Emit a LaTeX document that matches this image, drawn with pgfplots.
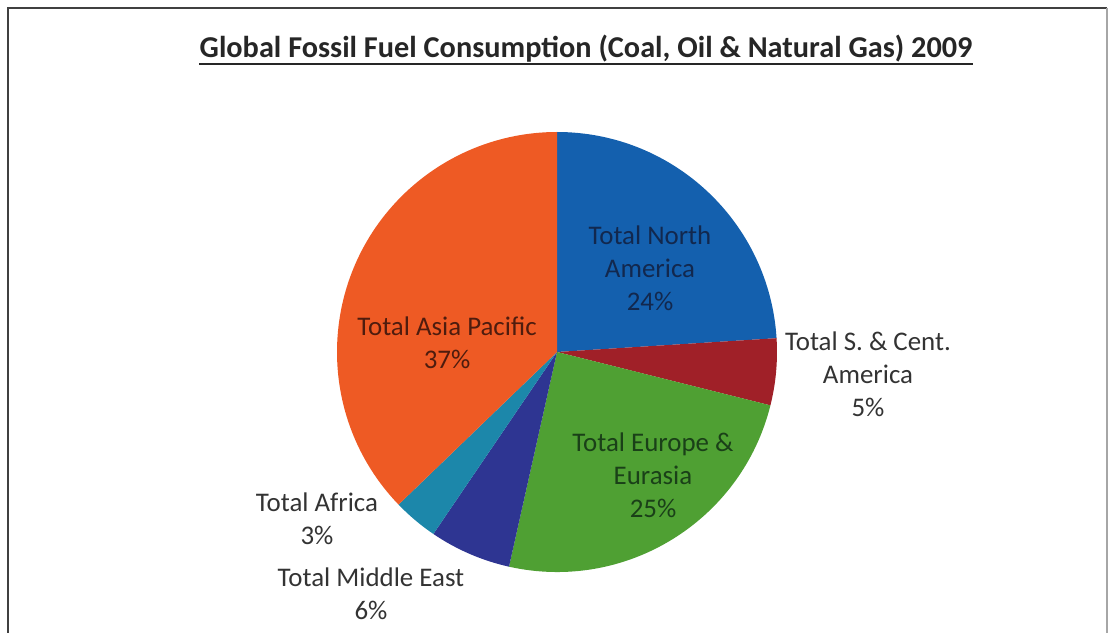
\documentclass[border=0pt]{standalone}
\usepackage{pgfplots}
\pgfplotsset{compat=1.18}
\usepackage{pgfplotstable}
\usepackage{fontspec}
\setmainfont{Carlito}

\definecolor{cNA}{HTML}{1460AE}
\definecolor{cSCA}{HTML}{A02028}
\definecolor{cEU}{HTML}{4FA033}
\definecolor{cME}{HTML}{2E3592}
\definecolor{cAF}{HTML}{1C87AA}
\definecolor{cAP}{HTML}{EE5A24}
\definecolor{tNA}{HTML}{12284E}
\definecolor{tEU}{HTML}{1A4018}
\definecolor{tAP}{HTML}{4E1C0E}
\definecolor{tOut}{HTML}{333333}

\pgfplotstableread{
name value
NA 24.0
SCA 4.9
EU 24.6
ME 6.0
AF 3.3
AP 37.2
}\piedata

\begin{document}
\begin{tikzpicture}
% cumulative angles (clockwise from 12 o'clock)
\pgfplotstablegetelem{0}{value}\of\piedata \let\vA\pgfplotsretval
\pgfplotstablegetelem{1}{value}\of\piedata \let\vB\pgfplotsretval
\pgfplotstablegetelem{2}{value}\of\piedata \let\vC\pgfplotsretval
\pgfplotstablegetelem{3}{value}\of\piedata \let\vD\pgfplotsretval
\pgfplotstablegetelem{4}{value}\of\piedata \let\vE\pgfplotsretval
\pgfplotstablegetelem{5}{value}\of\piedata \let\vF\pgfplotsretval
\pgfmathsetmacro\aA{90}
\pgfmathsetmacro\aB{\aA-3.6*\vA}
\pgfmathsetmacro\aC{\aB-3.6*\vB}
\pgfmathsetmacro\aD{\aC-3.6*\vC}
\pgfmathsetmacro\aE{\aD-3.6*\vD}
\pgfmathsetmacro\aF{\aE-3.6*\vE}
\pgfmathsetmacro\aG{\aF-3.6*\vF}

\path[use as bounding box] (0,0) rectangle (555bp,316.5bp);
% frame
\draw[color=black!75, line width=0.8bp] (4bp,0) -- (4bp,312.5bp) -- (553.5bp,312.5bp);
\draw[color=black!35, line width=0.6bp] (553.5bp,312.5bp) -- (553.5bp,0);

% title
\node[anchor=base, font=\bfseries\fontsize{15.2}{18}\selectfont, text=black!85, inner sep=0pt] (title) at (293bp,287.5bp)
  {Global Fossil Fuel Consumption (Coal, Oil \& Natural Gas) 2009};
\draw[line width=1.1bp, black!85] ([yshift=-3bp]title.base west) -- ([yshift=-3bp]title.base east);

\begin{axis}[
  at={(278.5bp,140.5bp)}, anchor=center,
  scale only axis, width=220bp, height=220bp,
  xmin=-1, xmax=1, ymin=-1, ymax=1,
  hide axis, clip=false,
]
\fill[cNA]  (axis cs:0,0) -- (axis cs:{cos(\aA)},{sin(\aA)}) arc[start angle=\aA, end angle=\aB, radius=110bp] -- cycle;
\fill[cSCA] (axis cs:0,0) -- (axis cs:{cos(\aB)},{sin(\aB)}) arc[start angle=\aB, end angle=\aC, radius=110bp] -- cycle;
\fill[cEU]  (axis cs:0,0) -- (axis cs:{cos(\aC)},{sin(\aC)}) arc[start angle=\aC, end angle=\aD, radius=110bp] -- cycle;
\fill[cME]  (axis cs:0,0) -- (axis cs:{cos(\aD)},{sin(\aD)}) arc[start angle=\aD, end angle=\aE, radius=110bp] -- cycle;
\fill[cAF]  (axis cs:0,0) -- (axis cs:{cos(\aE)},{sin(\aE)}) arc[start angle=\aE, end angle=\aF, radius=110bp] -- cycle;
\fill[cAP]  (axis cs:0,0) -- (axis cs:{cos(\aF)},{sin(\aF)}) arc[start angle=\aF, end angle=\aG, radius=110bp] -- cycle;
\end{axis}

% labels
\tikzset{lab/.style={align=center, font=\fontsize{13.5}{16.5}\selectfont, inner sep=0pt}}
\node[lab, text=tNA]  at (325bp,182.5bp) {Total North\\America\\24\%};
\node[lab, text=tAP]  at (223.5bp,145bp) {Total Asia Pacific\\37\%};
\node[lab, text=tEU]  at (326.5bp,79bp) {Total Europe \&\\Eurasia\\25\%};
\node[lab, text=tOut] at (434bp,129.5bp) {Total S. \& Cent.\\America\\5\%};
\node[lab, text=tOut] at (158.5bp,57bp) {Total Africa\\3\%};
\node[lab, text=tOut] at (185.5bp,19.5bp) {Total Middle East\\6\%};
\end{tikzpicture}
\end{document}
